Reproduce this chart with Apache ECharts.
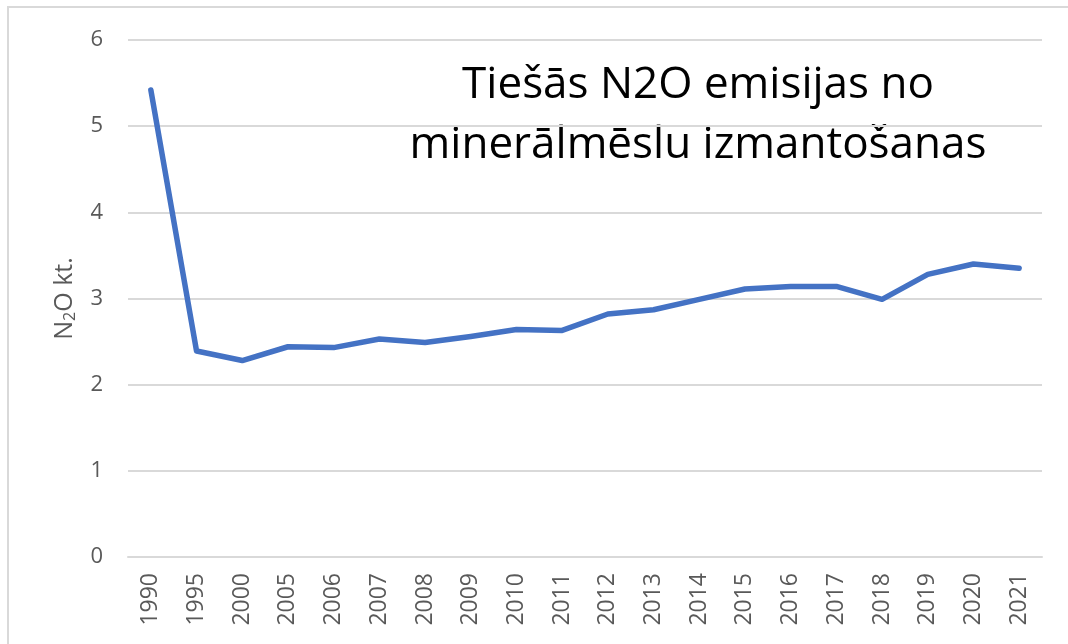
<!DOCTYPE html>
<html>
<head>
<meta charset="utf-8">
<title>Tiešās N2O emisijas</title>
<script src="https://cdn.jsdelivr.net/npm/echarts@6/dist/echarts.min.js"></script>
<style>
  html, body { margin: 0; padding: 0; background: #fff; }
  #chart { width: 1068px; height: 644px; }
</style>
</head>
<body>
<div id="chart"></div>
<script>
// gadi un emisijas (kt)
var years = ['1990', '1995', '2000', '2005', '2006', '2007', '2008', '2009', '2010', '2011',
  '2012', '2013', '2014', '2015', '2016', '2017', '2018', '2019', '2020', '2021']
var emissions = [5.42, 2.39, 2.28, 2.44, 2.43, 2.53, 2.49, 2.56, 2.64, 2.63,
  2.82, 2.87, 2.99, 3.11, 3.14, 3.14, 2.99, 3.28, 3.40, 3.35]
var yTicks = [0, 1, 2, 3, 4, 5, 6]

var chart = echarts.init(document.getElementById('chart'))
var font = '"Open Sans", "Noto Sans", sans-serif'

chart.setOption({
  animation: false,
  backgroundColor: '#fff',
  textStyle: { fontFamily: font },
  graphic: [
    {
      type: 'rect',
      shape: { x: 8, y: 7, width: 1200, height: 800 },
      style: { fill: 'none', stroke: '#d9d9d9', lineWidth: 2 },
      silent: true
    },
    {
      type: 'text',
      x: 698,
      y: 115,
      style: {
        text: 'Tiešās N2O emisijas no\nminerālmēslu izmantošanas',
        align: 'center',
        verticalAlign: 'middle',
        fill: '#000',
        font: '44px ' + font,
        lineHeight: 60
      }
    }
  ],
  grid: {
    left: 128,
    right: 26,
    top: 40,
    bottom: 87
  },
  xAxis: {
    type: 'category',
    data: years,
    boundaryGap: true,
    axisLine: { show: true, lineStyle: { color: '#d9d9d9', width: 2 } },
    axisTick: { show: false },
    axisLabel: {
      rotate: 90,
      margin: 16,
      color: '#595959',
      fontSize: 23,
      fontFamily: font
    }
  },
  yAxis: {
    type: 'value',
    min: yTicks[0],
    max: yTicks[yTicks.length - 1],
    interval: 1,
    name: '{a|N}{s|2}{a|O kt.}',
    nameLocation: 'middle',
    nameRotate: 90,
    nameGap: 50,
    nameTextStyle: {
      rich: {
        a: { fontSize: 25, color: '#595959', fontFamily: font },
        s: { fontSize: 16, color: '#595959', fontFamily: font, verticalAlign: 'bottom', padding: [11, 0, 0, 0] }
      }
    },
    axisLine: { show: false },
    axisTick: { show: false },
    axisLabel: {
      margin: 25,
      color: '#595959',
      fontSize: 22,
      fontFamily: font
    },
    splitLine: { lineStyle: { color: '#d9d9d9', width: 2 } }
  },
  series: [
    {
      type: 'line',
      data: emissions,
      symbol: 'none',
      lineStyle: { color: '#4472c4', width: 5.5, cap: 'round', join: 'round' },
      itemStyle: { color: '#4472c4' }
    }
  ]
})
</script>
</body>
</html>
